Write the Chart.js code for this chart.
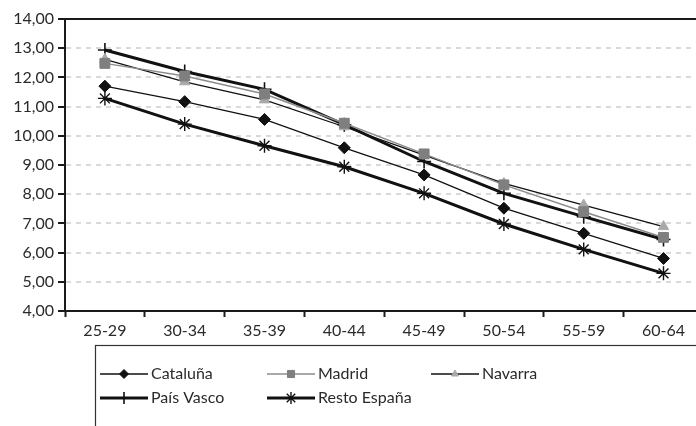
<!DOCTYPE html>
<html lang="es">
<head>
    <meta charset="UTF-8">
    <title>Edad por comunidad</title>
    <script src="https://cdn.jsdelivr.net/npm/chart.js"></script>
    <style>
        html, body { margin: 0; padding: 0; background: #fff; overflow: hidden; }
        #wrap { width: 712px; height: 426px; }
    </style>
</head>
<body>
    <div id="wrap"><canvas id="myChart" width="712" height="426"></canvas></div>

    <script>
        // datos
        const labels = ['25-29', '30-34', '35-39', '40-44', '45-49', '50-54', '55-59', '60-64'];
        const cataluna = [11.70, 11.17, 10.56, 9.59, 8.66, 7.52, 6.66, 5.80];
        const madrid = [12.48, 12.05, 11.43, 10.43, 9.38, 8.32, 7.40, 6.52];
        const navarra = [12.62, 11.85, 11.23, 10.31, 9.34, 8.37, 7.63, 6.89];
        const paisVasco = [12.94, 12.20, 11.59, 10.38, 9.12, 8.03, 7.23, 6.45];
        const restoEspana = [11.28, 10.40, 9.66, 8.94, 8.03, 6.98, 6.11, 5.29];
        const yTicks = [4, 5, 6, 7, 8, 9, 10, 11, 12, 13, 14];

        const FONT = 'Lato, "Open Sans", sans-serif';
        const TEXT = '#2a2a2a';

        function legendMarker(ctx, ds, x, y, r) {
            ctx.save();
            ctx.fillStyle = ds.pointBackgroundColor;
            ctx.strokeStyle = ds.pointBorderColor;
            ctx.lineWidth = ds.pointBorderWidth;
            Chart.helpers.drawPoint(ctx, { pointStyle: ds.pointStyle, radius: r, rotation: 0, borderWidth: ds.pointBorderWidth }, x, y);
            ctx.restore();
        }

        // marco superior y leyenda en caja
        const framePlugin = {
            id: 'frame',
            afterDraw(chart) {
                const ctx = chart.ctx;
                const a = chart.chartArea;
                ctx.save();
                ctx.strokeStyle = '#1a1a1a';
                ctx.lineWidth = 2;
                ctx.beginPath();
                ctx.moveTo(a.left - 1, a.top);
                ctx.lineTo(a.right + 10, a.top);
                ctx.stroke();

                // caja de leyenda
                ctx.lineWidth = 1.2;
                ctx.strokeStyle = '#333';
                ctx.strokeRect(95.5, 345.5, 650, 120);

                const slots = [
                    [100, 374], [267, 374], [431, 374],
                    [100, 398], [267, 398]
                ];
                const sizes = [4.5, 5, 4, 6, 6];
                chart.data.datasets.forEach((ds, i) => {
                    const [x, y] = slots[i];
                    ctx.save();
                    ctx.strokeStyle = ds.borderColor;
                    ctx.lineWidth = ds.borderWidth;
                    ctx.beginPath();
                    ctx.moveTo(x, y);
                    ctx.lineTo(x + 48, y);
                    ctx.stroke();
                    ctx.restore();
                    legendMarker(ctx, ds, x + 24, y, sizes[i]);
                    ctx.fillStyle = TEXT;
                    ctx.font = '16px ' + FONT;
                    ctx.textBaseline = 'middle';
                    ctx.textAlign = 'left';
                    ctx.fillText(ds.label, x + 51, y);
                });
                ctx.restore();
            }
        };

        const ctx = document.getElementById('myChart').getContext('2d');
        const myChart = new Chart(ctx, {
            type: 'line',
            data: {
                labels: labels,
                datasets: [{
                    label: 'Cataluña',
                    data: cataluna,
                    borderColor: '#111',
                    borderWidth: 1.3,
                    pointStyle: 'rectRot',
                    pointRadius: 6,
                    pointBackgroundColor: '#111',
                    pointBorderColor: '#111',
                    pointBorderWidth: 1
                }, {
                    label: 'Madrid',
                    data: madrid,
                    borderColor: '#8c8c8c',
                    borderWidth: 1.5,
                    pointStyle: 'rect',
                    pointRadius: 7,
                    pointBackgroundColor: '#7f7f7f',
                    pointBorderColor: '#7f7f7f',
                    pointBorderWidth: 1
                }, {
                    label: 'Navarra',
                    data: navarra,
                    borderColor: '#111',
                    borderWidth: 1.3,
                    pointStyle: 'triangle',
                    pointRadius: 6,
                    pointBackgroundColor: '#a9a9a9',
                    pointBorderColor: '#a9a9a9',
                    pointBorderWidth: 1
                }, {
                    label: 'País Vasco',
                    data: paisVasco,
                    borderColor: '#111',
                    borderWidth: 3,
                    pointStyle: 'cross',
                    pointRadius: 7,
                    pointBackgroundColor: '#111',
                    pointBorderColor: '#111',
                    pointBorderWidth: 1.6
                }, {
                    label: 'Resto España',
                    data: restoEspana,
                    borderColor: '#111',
                    borderWidth: 3,
                    pointStyle: 'star',
                    pointRadius: 7,
                    pointBackgroundColor: '#111',
                    pointBorderColor: '#111',
                    pointBorderWidth: 1.4
                }]
            },
            options: {
                responsive: false,
                animation: false,
                tension: 0,
                layout: { padding: { top: 19, right: 7, bottom: 85, left: 0 } },
                plugins: {
                    legend: { display: false },
                    tooltip: { enabled: false }
                },
                scales: {
                    x: {
                        offset: true,
                        afterFit(scale) { scale.height = 30; },
                        grid: {
                            offset: true,
                            drawOnChartArea: false,
                            tickLength: 6,
                            tickColor: '#1a1a1a',
                            tickWidth: 2
                        },
                        border: { color: '#1a1a1a', width: 2 },
                        ticks: {
                            color: TEXT,
                            font: { family: FONT, size: 16 },
                            padding: 4,
                            maxRotation: 0,
                            autoSkip: false
                        }
                    },
                    y: {
                        min: 4,
                        max: 14,
                        afterFit(scale) { scale.width = 65; },
                        afterBuildTicks(scale) { scale.ticks = yTicks.map(v => ({ value: v })); },
                        grid: {
                            color: c => (c.tick && (c.tick.value === 14 || c.tick.value === 4)) ? 'rgba(0,0,0,0)' : '#d9d9d9',
                            lineWidth: 2,
                            tickLength: 7,
                            tickColor: '#1a1a1a',
                            tickWidth: 2,
                            tickBorderDash: []
                        },
                        border: { color: '#1a1a1a', width: 2, dash: [5, 5] },
                        ticks: {
                            color: TEXT,
                            font: { family: FONT, size: 16 },
                            padding: 4,
                            callback: v => v.toFixed(2).replace('.', ',')
                        }
                    }
                }
            },
            plugins: [framePlugin]
        });
    </script>
</body>
</html>
